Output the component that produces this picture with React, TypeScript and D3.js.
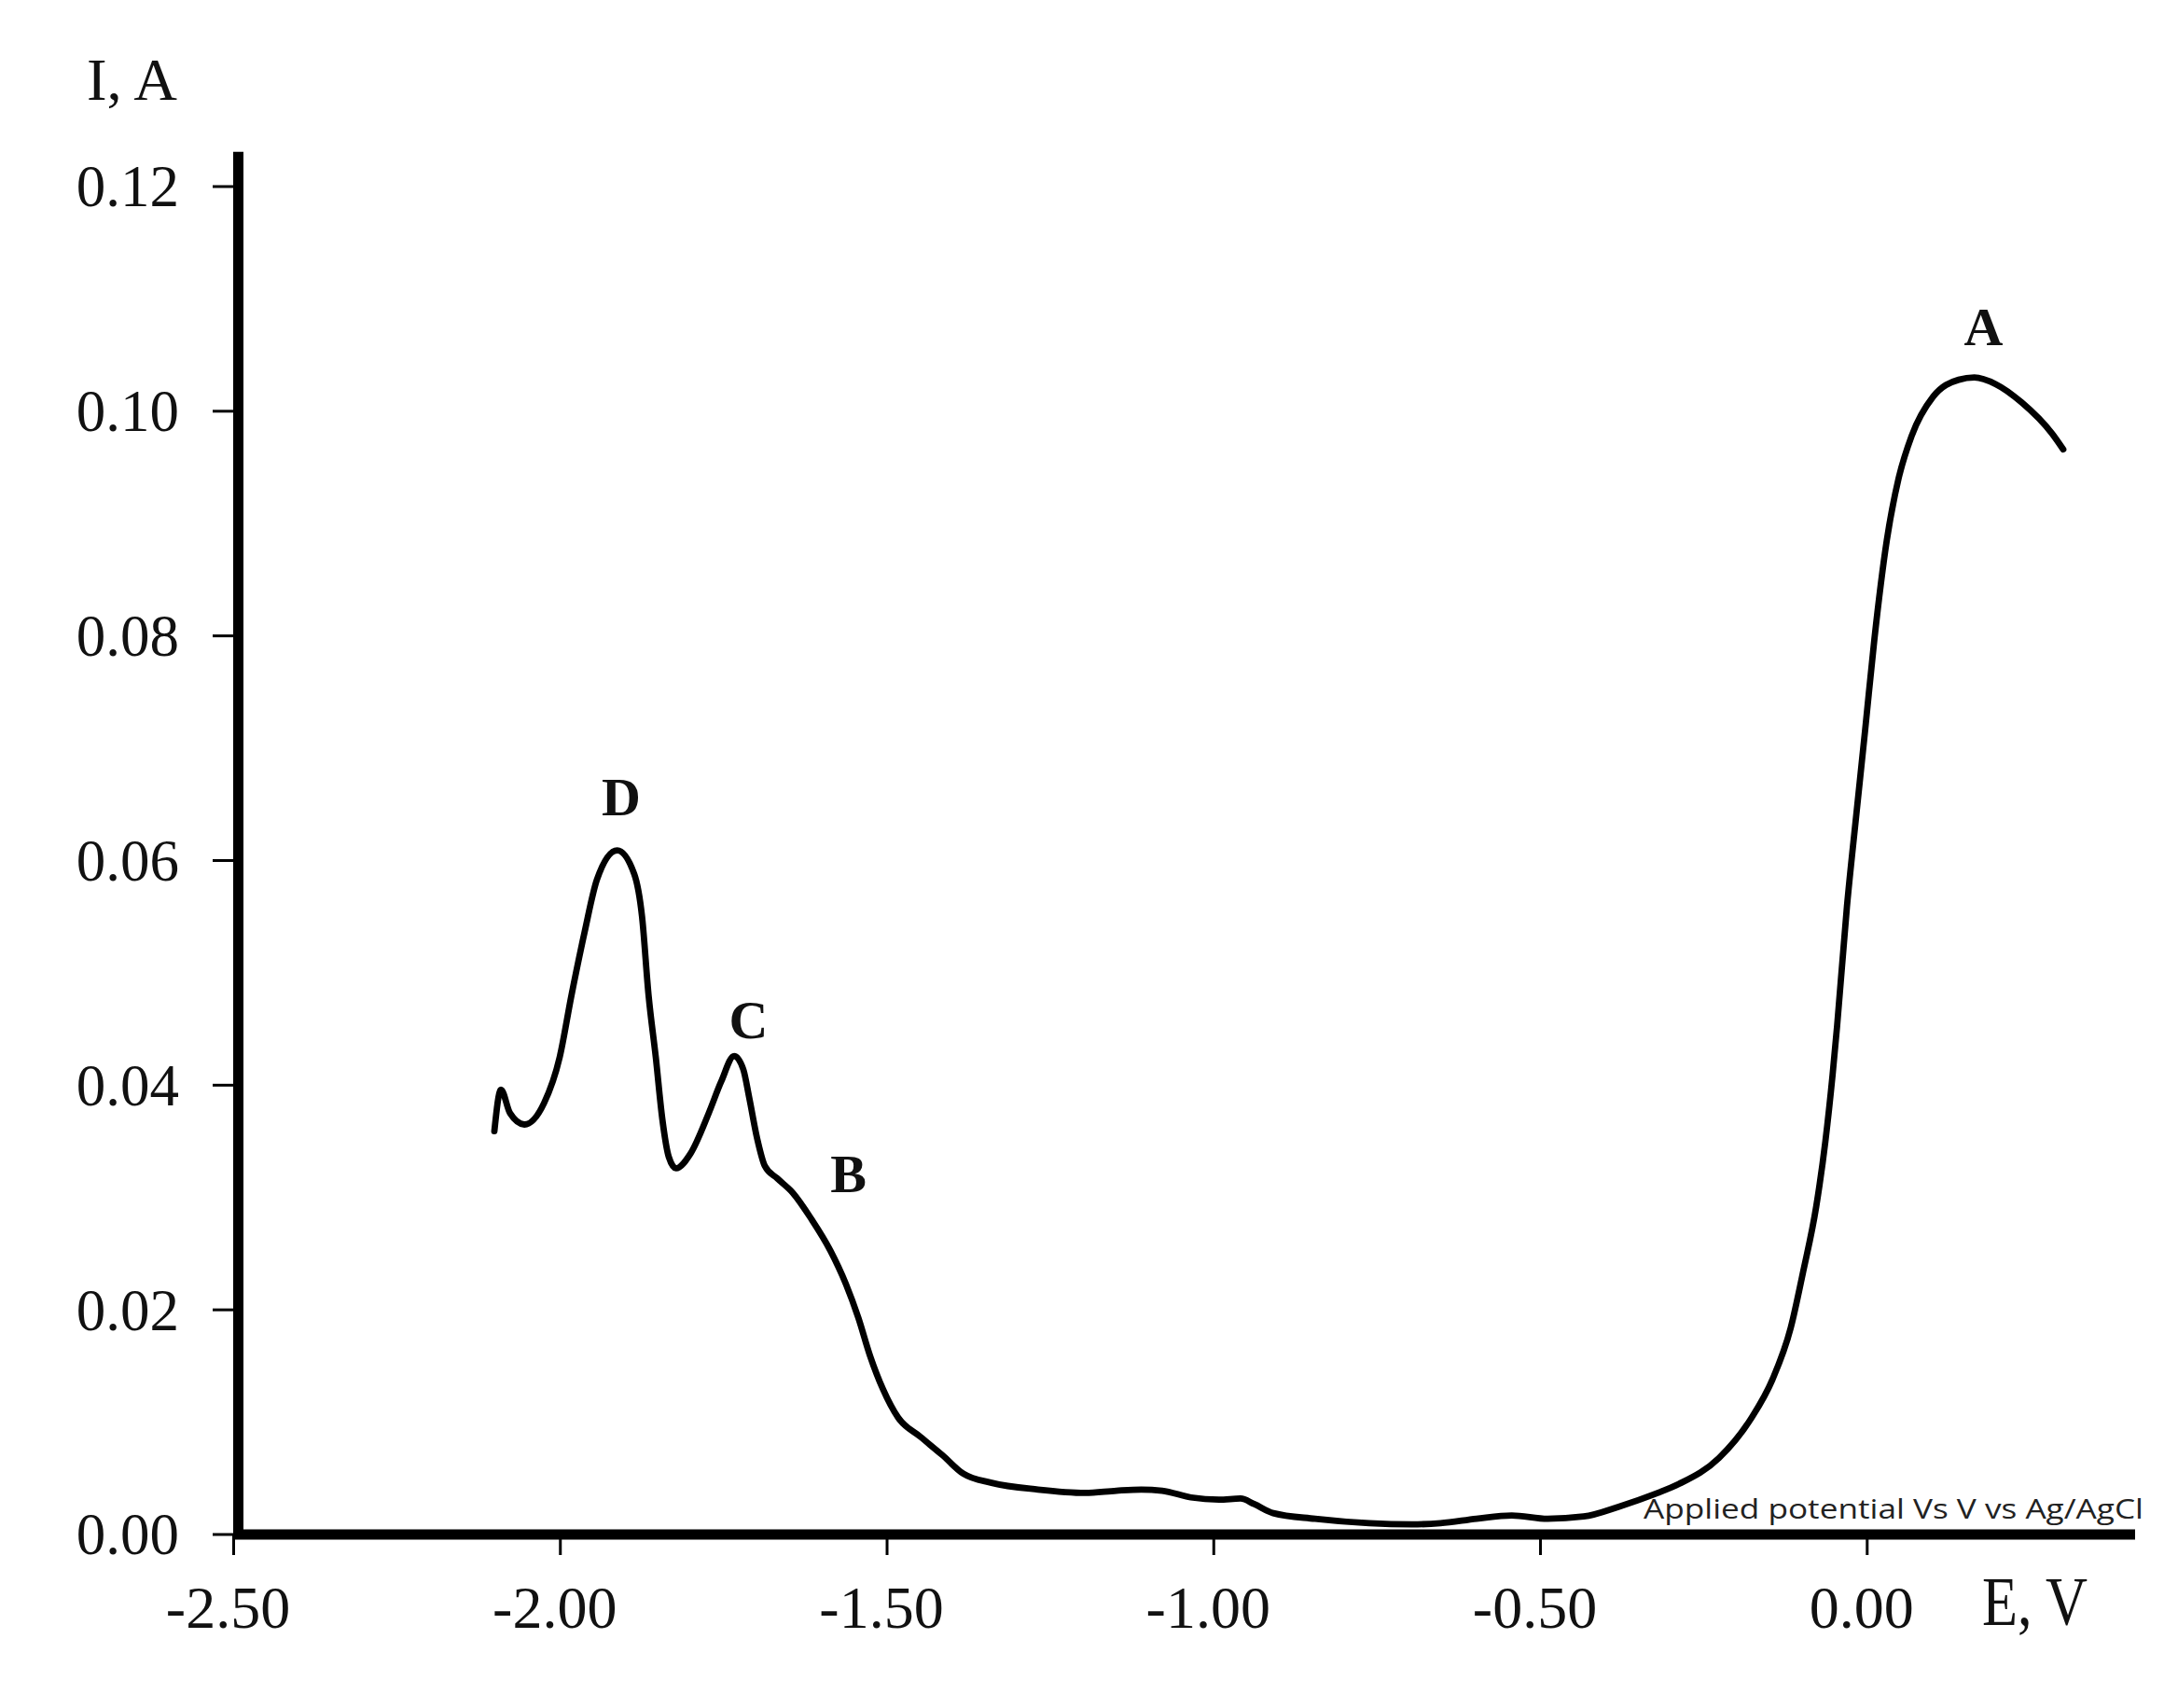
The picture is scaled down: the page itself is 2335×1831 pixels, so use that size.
import React from "react";
import * as d3 from "d3";

const potential: number[] = [
  -2.101, -2.091, -2.077, -2.055, -2.025, -2.001, -1.983, -1.963, -1.944, -1.913,
  -1.887, -1.875, -1.865, -1.854, -1.844, -1.834, -1.823, -1.801, -1.773, -1.754,
  -1.734, -1.72, -1.711, -1.699, -1.687, -1.668, -1.644, -1.616, -1.587, -1.563,
  -1.544, -1.526, -1.506, -1.483, -1.449, -1.416, -1.383, -1.34, -1.269, -1.197,
  -1.149, -1.111, -1.079, -1.035, -0.992, -0.959, -0.938, -0.909, -0.845, -0.762,
  -0.697, -0.653, -0.598, -0.544, -0.489, -0.434, -0.379, -0.325, -0.288, -0.227,
  -0.178, -0.145, -0.117, -0.098, -0.078, -0.064, -0.053, -0.046, -0.031, -0.017,
  -0.003, 0.011, 0.03, 0.048, 0.068, 0.101, 0.14, 0.164, 0.197, 0.236, 0.283, 0.3,
];

const current: number[] = [
  0.0359, 0.0396, 0.0375, 0.0365, 0.0384, 0.0425, 0.048, 0.0536, 0.0583, 0.0609,
  0.0588, 0.055, 0.048, 0.0425, 0.037, 0.0336, 0.0326, 0.0339, 0.0375, 0.0403,
  0.0426, 0.0414, 0.0389, 0.0353, 0.0328, 0.0317, 0.0304, 0.0281, 0.0253, 0.0223,
  0.0193, 0.0159, 0.0129, 0.0104, 0.0087, 0.0071, 0.0054, 0.0046, 0.004, 0.0037,
  0.0039, 0.004, 0.0039, 0.0033, 0.0031, 0.0032, 0.0027, 0.0019, 0.0014, 0.001,
  0.0009, 0.001, 0.0014, 0.0017, 0.0014, 0.0016, 0.0025, 0.0036, 0.0045, 0.0068,
  0.0103, 0.0138, 0.0184, 0.0234, 0.0292, 0.035, 0.0409, 0.0453, 0.0559, 0.0639,
  0.0717, 0.0797, 0.0885, 0.094, 0.0978, 0.1013, 0.1028, 0.103, 0.1024, 0.1008,
  0.098, 0.0966,
];

const xTicks: number[] = [-2.5, -2.0, -1.5, -1.0, -0.5, 0.0];
const yTicks: number[] = [0, 0.02, 0.04, 0.06, 0.08, 0.1, 0.12];

const peakNames: string[] = ["D", "C", "B", "A"];
const peakE: number[] = [-1.907, -1.712, -1.559, 0.178];
const peakI: number[] = [0.064, 0.0442, 0.0305, 0.1059];

const W = 2335;
const H = 1831;

export default function App() {
  const x = d3.scaleLinear().domain([-2.5, 0.41]).range([250.5, 2289]);
  const y = d3.scaleLinear().domain([0, 0.12]).range([1645, 200]);
  const yTop = 0.1231;

  const pts: [number, number][] = potential.map((e, i) => [e, current[i]]);
  const line = d3
    .line<[number, number]>()
    .x((d) => x(d[0]))
    .y((d) => y(d[1]))
    .curve(d3.curveMonotoneX);

  const serif = "'Liberation Serif', 'Times New Roman', serif";
  const axisX = x(-2.5) + 5;

  return (
    <svg
      width={W}
      height={H}
      style={{ position: "absolute", left: 0, top: 0, display: "block", background: "#fff" }}
    >
      <rect x={0} y={0} width={W} height={H} fill="#fff" />
      {yTicks.map((t) => (
        <g key={"yt" + t}>
          <line x1={228} x2={axisX} y1={y(t)} y2={y(t)} stroke="#000" strokeWidth={3} />
          <text
            x={192}
            y={y(t)}
            dy="0.34em"
            textAnchor="end"
            fontFamily={serif}
            fontSize={63}
            fill="#111"
          >
            {t.toFixed(2)}
          </text>
        </g>
      ))}
      {xTicks.map((t) => (
        <g key={"xt" + t}>
          <line x1={x(t)} x2={x(t)} y1={y(0)} y2={y(0) + 22} stroke="#000" strokeWidth={3} />
          <text
            x={x(t) - 6}
            y={1745}
            textAnchor="middle"
            fontFamily={serif}
            fontSize={64}
            fill="#111"
          >
            {t === 0 ? "0.00" : "-" + Math.abs(t).toFixed(2)}
          </text>
        </g>
      ))}
      <line x1={axisX} x2={axisX} y1={y(yTop)} y2={y(0) + 5} stroke="#000" strokeWidth={11} />
      <line x1={x(-2.5)} x2={x(0.41)} y1={y(0)} y2={y(0)} stroke="#000" strokeWidth={11} />

      <path
        d={line(pts) || ""}
        fill="none"
        stroke="#000"
        strokeWidth={6.8}
        strokeLinejoin="round"
        strokeLinecap="round"
      />

      {peakNames.map((n, i) => (
        <text
          key={n}
          x={x(peakE[i])}
          y={y(peakI[i])}
          textAnchor="middle"
          fontFamily={serif}
          fontWeight="bold"
          fontSize={58}
          fill="#111"
        >
          {n}
        </text>
      ))}

      <text x={93} y={107} fontFamily={serif} fontSize={64} fill="#111" textLength={97} lengthAdjust="spacingAndGlyphs">
        I, A
      </text>
      <text x={2125} y={1742} fontFamily={serif} fontSize={74} fill="#111" textLength={113} lengthAdjust="spacingAndGlyphs">
        E, V
      </text>
      <text
        x={1762}
        y={1628}
        fontFamily="'Open Sans', 'Noto Sans', sans-serif"
        fontSize={30}
        fill="#222"
        textLength={536}
        lengthAdjust="spacingAndGlyphs"
      >
        Applied potential Vs V vs Ag/AgCl
      </text>
    </svg>
  );
}
